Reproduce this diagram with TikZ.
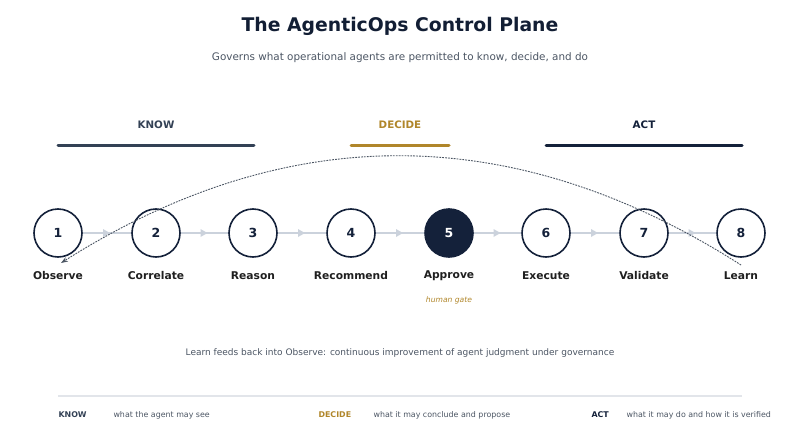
\documentclass[tikz,border=0pt]{standalone}
\usepackage{fontspec}
\setmainfont{DejaVu Sans}
\usetikzlibrary{arrows.meta,decorations.markings}
\definecolor{navy}{HTML}{14213A}
\definecolor{slate}{HTML}{334155}
\definecolor{gold}{HTML}{B0862A}
\definecolor{greytext}{HTML}{4B5563}
\definecolor{flowgrey}{HTML}{CBD2DC}
\definecolor{rulegrey}{HTML}{E2E5EA}
\tikzset{
  stage/.style={circle, draw=navy, line width=1.6pt, fill=white, minimum size=48pt,
    inner sep=0pt, font=\bfseries\fontsize{12.5}{14}\selectfont, text=navy},
  gate/.style={stage, fill=navy, text=white},
  stagename/.style={font=\bfseries\fontsize{10.7}{13}\selectfont, text=black!88},
  flow/.style={draw=flowgrey, line width=1.2pt,
    postaction={decorate, decoration={markings,
      mark=at position 0.5 with {\fill[flowgrey] (3pt,0) -- (-4pt,4pt) -- (-4pt,-4pt) -- cycle;}}}},
  phase/.style={font=\bfseries\fontsize{10.3}{12}\selectfont},
  phasebar/.style={line width=3pt, line cap=round},
  keyword/.style={font=\bfseries\fontsize{7.9}{10}\selectfont, anchor=west},
  keytext/.style={font=\fontsize{7.9}{10}\selectfont, text=greytext, anchor=west},
}
\begin{document}
\begin{tikzpicture}[x=1pt, y=-1pt]
  \useasboundingbox (0,0) rectangle (800,447);
  % title
  \node (title) at (400,26) {\bfseries\fontsize{18.8}{22}\selectfont\color{navy!90!black}The AgenticOps Control Plane};
  \node[text=greytext, font=\fontsize{10.4}{13}\selectfont] (subtitle) at (400,58)
    {Governs what operational agents are permitted to know, decide, and do};
  % phases
  \node[phase, text=slate] (know) at (156,125) {KNOW};
  \node[phase, text=gold] (decide) at (400,125) {DECIDE};
  \node[phase, text=navy] (act) at (644,125) {ACT};
  \draw[phasebar, slate] (58,145) -- (254,145);
  \draw[phasebar, gold] (351,145) -- (449,145);
  \draw[phasebar, navy] (546,145) -- (742,145);
  % stages
  \node[stage] (n1) at (58,233) {1};
  \node[stage] (n2) at (156,233) {2};
  \node[stage] (n3) at (253,233) {3};
  \node[stage] (n4) at (351,233) {4};
  \node[gate]  (n5) at (449,233) {5};
  \node[stage] (n6) at (546,233) {6};
  \node[stage] (n7) at (644,233) {7};
  \node[stage] (n8) at (741,233) {8};
  \foreach \i/\j in {1/2,2/3,3/4,4/5,5/6,6/7,7/8}
    \draw[flow] (n\i) -- (n\j);
  \foreach \i/\name in {1/Observe,2/Correlate,3/Reason,4/Recommend,5/Approve,6/Execute,7/Validate,8/Learn}
    \node[stagename] (l\i) at ([yshift=-43pt]n\i.center) {\name};
  \node[text=gold, font=\itshape\fontsize{7.6}{9}\selectfont] (gatenote) at ([yshift=-67pt]n5.center) {human gate};
  % feedback loop
  \coordinate (loopout) at ([yshift=-32pt]n8.center);
  \coordinate (loopin) at ([xshift=3pt,yshift=-30pt]n1.center);
  \draw[greytext, line width=0.9pt, dash pattern=on 1.8pt off 1.1pt, -{Stealth[length=7pt,width=5pt]}]
    (loopout) .. controls (514,120) and (287,120) .. (loopin);
  \node[text=greytext, font=\fontsize{9}{11}\selectfont] (loopnote) at (400,353)
    {Learn feeds back into Observe: continuous improvement of agent judgment under governance};
  % legend
  \coordinate (rulel) at (58,396);
  \coordinate (ruler) at (742,396);
  \draw[rulegrey, line width=1.2pt] (rulel) -- (ruler);
  \node[keyword, text=slate] (kknow) at (55,415) {KNOW};
  \node[keytext] (tknow) at (110,415) {what the agent may see};
  \node[keyword, text=gold] (kdecide) at (315,415) {DECIDE};
  \node[keytext] (tdecide) at (370,415) {what it may conclude and propose};
  \node[keyword, text=navy] (kact) at (588,415) {ACT};
  \node[keytext] (tact) at (623,415) {what it may do and how it is verified};
\end{tikzpicture}
\end{document}
